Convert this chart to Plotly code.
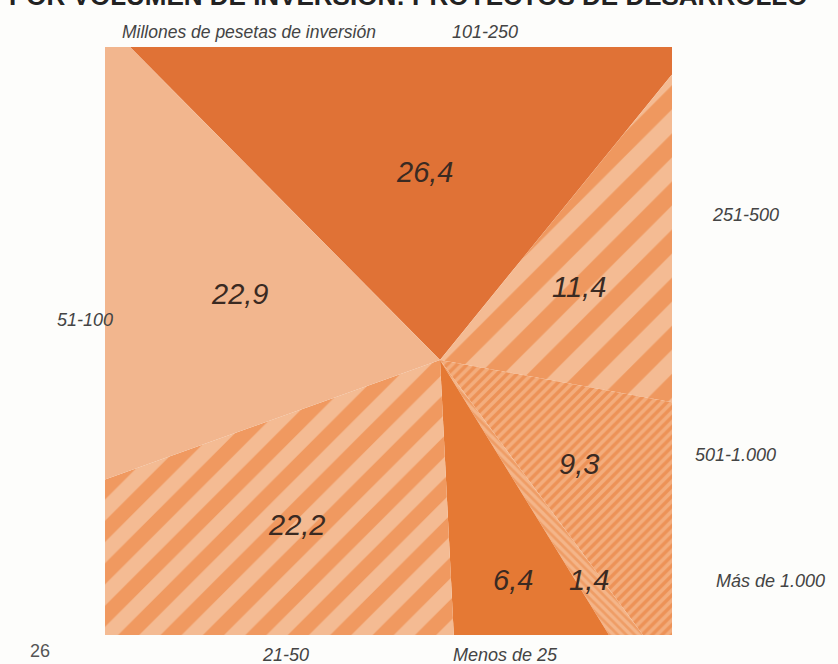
"""Square 'pie' of development projects by investment size."""

import numpy as np
import plotly.graph_objects as go

# data (millones de pesetas de inversión), clockwise from the top
categories = ["101-250", "251-500", "501-1.000", "Más de 1.000", "Menos de 25", "21-50", "51-100"]
values = [26.4, 11.4, 9.3, 1.4, 6.4, 22.2, 22.9]
value_labels = ["26,4", "11,4", "9,3", "1,4", "6,4", "22,2", "22,9"]

title_text = "POR VOLUMEN DE INVERSIÓN: PROYECTOS DE DESARROLLO"
subtitle_text = "Millones de pesetas de inversión"
page_number = "26"

# geometry of the square (pixel space) and the hub the slices fan out from
X0, X1, Y0, Y1 = 105, 672, 47, 635
HUB = (440, 360)
START = 25  # perimeter offset of the first slice edge

# styles per slice
FILLS = [
    {"color": "#E07236"},
    {"color": "#F4BB93", "shape": "/", "fg": "#EA762C", "size": 34, "solidity": 0.5},
    {"color": "#F3AD7D", "shape": "/", "fg": "#E87832", "size": 7, "solidity": 0.5},
    {"color": "#F4B589", "shape": "\\", "fg": "#EA8543", "size": 6, "solidity": 0.45},
    {"color": "#E57934"},
    {"color": "#F4BB93", "shape": "/", "fg": "#EB772D", "size": 30, "solidity": 0.5},
    {"color": "#F2B68E"},
]
LABEL_DEPTH = [0.6, 0.6, 0.6, 0.8, 0.8, 0.6, 0.6]
CAT_POS = [(485, 32), (745, 215), (735, 455), (770, 581), (505, 655), (285, 655), (85, 320)]

W, H = X1 - X0, Y1 - Y0
P = 2 * W + 2 * H
corner_s = np.array([0, W, W + H, 2 * W + H, P], dtype=float)
corner_xy = [(X0, Y0), (X1, Y0), (X1, Y1), (X0, Y1), (X0, Y0)]


def perim_point(s):
    s = s % P
    if s <= W:
        return X0 + s, Y0
    if s <= W + H:
        return X1, Y0 + (s - W)
    if s <= 2 * W + H:
        return X1 - (s - W - H), Y1
    return X0, Y1 - (s - 2 * W - H)


# cumulative fan area along the perimeter
hx, hy = HUB
density = [(hy - Y0) / 2, (X1 - hx) / 2, (Y1 - hy) / 2, (hx - X0) / 2]
edge_len = [W, H, W, H]
cum = np.concatenate([[0], np.cumsum([d * l for d, l in zip(density, edge_len)])])
total = cum[-1]
knots_s = np.concatenate([corner_s, corner_s[1:] + P])
knots_a = np.concatenate([cum, cum[1:] + total])

a_start = np.interp(START, knots_s, knots_a)
fracs = np.concatenate([[0], np.cumsum(values) / np.sum(values)])
bounds = np.interp(a_start + fracs * total, knots_a, knots_s)

fig = go.Figure()

for i, cat in enumerate(categories):
    sa, sb = bounds[i], bounds[i + 1]
    xs, ys = [hx], [hy]
    px, py = perim_point(sa)
    xs.append(px)
    ys.append(py)
    for k, cs in enumerate(knots_s):
        if sa < cs < sb:
            cx, cy = corner_xy[k % 4]
            xs.append(cx)
            ys.append(cy)
    px, py = perim_point(sb)
    xs += [px, hx]
    ys += [py, hy]

    style = FILLS[i]
    kwargs = {}
    if "shape" in style:
        kwargs["fillpattern"] = {
            "shape": style["shape"],
            "fgcolor": style["fg"],
            "bgcolor": style["color"],
            "size": style["size"],
            "solidity": style["solidity"],
        }
    fig.add_trace(
        go.Scatter(
            x=xs,
            y=ys,
            mode="lines",
            fill="toself",
            fillcolor=style["color"],
            line={"width": 0, "color": style["color"]},
            name=cat,
            hovertemplate=f"{cat}: {value_labels[i]}%<extra></extra>",
            **kwargs,
        )
    )

    # value label along the slice's mid direction
    mx, my = perim_point((sa + sb) / 2)
    d = LABEL_DEPTH[i]
    fig.add_annotation(
        x=hx + d * (mx - hx),
        y=hy + d * (my - hy),
        text=f"<i>{value_labels[i]}</i>",
        showarrow=False,
        font={"family": "Liberation Sans", "size": 29, "color": "#3A2A22"},
    )
    cx, cy = CAT_POS[i]
    fig.add_annotation(
        x=cx,
        y=cy,
        text=f"<i>{cat}</i>",
        showarrow=False,
        font={"family": "Liberation Sans", "size": 18, "color": "#444444"},
    )

# the running head is cut by the top edge in the original scan
fig.add_annotation(
    x=408, y=13, yanchor="bottom", text=f"<b>{title_text}</b>", showarrow=False,
    font={"family": "Liberation Sans", "size": 26, "color": "#222222"},
)
fig.add_annotation(
    x=120, y=32, xanchor="left", text=f"<i>{subtitle_text}</i>", showarrow=False,
    font={"family": "Liberation Sans", "size": 17.5, "color": "#444444"},
)
fig.add_annotation(
    x=40, y=651, text=page_number, showarrow=False,
    font={"family": "Liberation Sans", "size": 18, "color": "#555555"},
)

fig.update_layout(
    width=838,
    height=664,
    margin={"l": 0, "r": 0, "t": 0, "b": 0},
    paper_bgcolor="#FDFDFB",
    plot_bgcolor="#FDFDFB",
    showlegend=False,
)
fig.update_xaxes(range=[0, 838], visible=False)
fig.update_yaxes(range=[664, 0], visible=False)

# drop the default page margin so the figure fills the window exactly
fig.write_html(
    "out.html",
    config={"displayModeBar": False},
    post_script="document.body.style.margin = '0';",
)
